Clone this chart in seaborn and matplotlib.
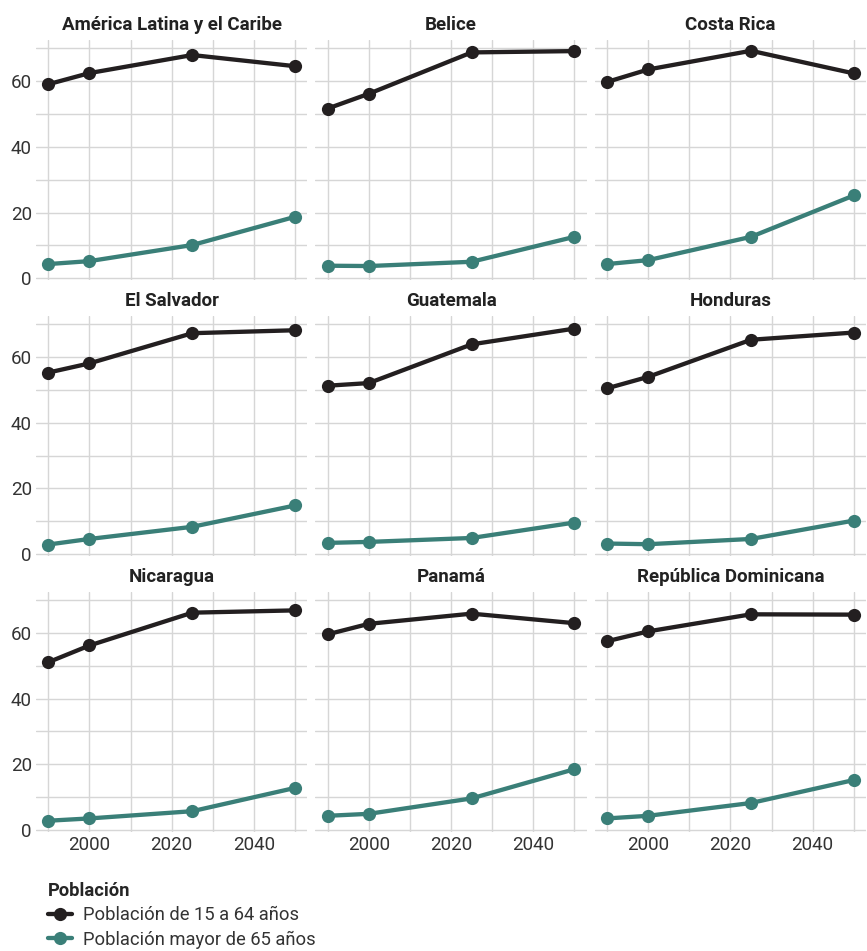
import numpy as np
import pandas as pd
import matplotlib
matplotlib.use("Agg")
import matplotlib.pyplot as plt
import seaborn as sns

years = [1990, 2000, 2025, 2050]
countries = ["América Latina y el Caribe", "Belice", "Costa Rica",
             "El Salvador", "Guatemala", "Honduras",
             "Nicaragua", "Panamá", "República Dominicana"]
pop_15_64 = [
    [59.1, 62.5, 68.0, 64.6],
    [51.7, 56.2, 68.8, 69.2],
    [59.8, 63.6, 69.3, 62.4],
    [55.3, 58.1, 67.3, 68.2],
    [51.3, 52.1, 63.9, 68.7],
    [50.5, 54.0, 65.3, 67.5],
    [51.1, 56.2, 66.2, 66.9],
    [59.6, 62.8, 65.9, 63.0],
    [57.5, 60.5, 65.7, 65.6],
]
pop_65 = [
    [4.3, 5.2, 10.1, 18.7],
    [3.8, 3.7, 5.0, 12.6],
    [4.3, 5.5, 12.6, 25.2],
    [2.9, 4.6, 8.3, 14.8],
    [3.4, 3.7, 4.9, 9.6],
    [3.2, 3.0, 4.6, 10.2],
    [2.8, 3.5, 5.7, 12.8],
    [4.3, 4.9, 9.6, 18.5],
    [3.5, 4.3, 8.2, 15.2],
]
series_names = ["Población de 15 a 64 años", "Población mayor de 65 años"]
x_ticks = [2000, 2020, 2040]
y_ticks = [0, 20, 40, 60]

rows = []
for c, a, b in zip(countries, pop_15_64, pop_65):
    for y, v in zip(years, a):
        rows.append((c, y, series_names[0], v))
    for y, v in zip(years, b):
        rows.append((c, y, series_names[1], v))
df = pd.DataFrame(rows, columns=["País", "Año", "Población", "Valor"])

sns.set_theme(style="white")
plt.rcParams["font.family"] = ["Roboto", "DejaVu Sans"]

palette = {series_names[0]: "#231f20", series_names[1]: "#3a7f78"}
grid_c = "#d6d6d6"

fig, axes = plt.subplots(3, 3, figsize=(8.67, 9.51), dpi=100, sharex=True, sharey=True)
fig.subplots_adjust(left=0.0415, right=0.999, top=0.958, bottom=0.1256,
                    wspace=0.0294, hspace=0.15)

for i, (ax, c) in enumerate(zip(axes.flat, countries)):
    sub = df[df["País"] == c]
    sns.lineplot(data=sub, x="Año", y="Valor", hue="Población", palette=palette,
                 hue_order=series_names, marker="o", markersize=9.5,
                 markeredgewidth=0, linewidth=3.1, ax=ax, legend=(i == 0), zorder=3)
    ax.set_xlim(1987, 2053)
    ax.set_ylim(-0.5, 72.6)
    ax.set_xticks(x_ticks)
    ax.set_xticks([1990, 2010, 2030, 2050], minor=True)
    ax.set_yticks(y_ticks)
    ax.set_yticks([10, 30, 50, 70], minor=True)
    ax.grid(True, which="both", color=grid_c, linewidth=1.0)
    ax.set_axisbelow(True)
    for s in ax.spines.values():
        s.set_visible(False)
    ax.set_xlabel("")
    ax.set_ylabel("")
    ax.tick_params(which="both", length=0, labelsize=13.5, labelcolor="#333333", pad=3)
    ax.set_title(c, fontsize=13.5, fontweight="bold", color="#222222", pad=7)

handles, labels = axes.flat[0].get_legend_handles_labels()
axes.flat[0].get_legend().remove()
leg = fig.legend(handles, labels, title="Población", loc="upper left",
                 bbox_to_anchor=(0.047, 0.080), frameon=False, fontsize=13.2,
                 title_fontsize=13.2, handlelength=1.3, handletextpad=0.6,
                 labelspacing=0.34, alignment="left", borderaxespad=0)
leg.get_title().set_fontweight("bold")
for t in leg.get_texts():
    t.set_color("#333333")

fig.savefig("out.png", dpi=100)
